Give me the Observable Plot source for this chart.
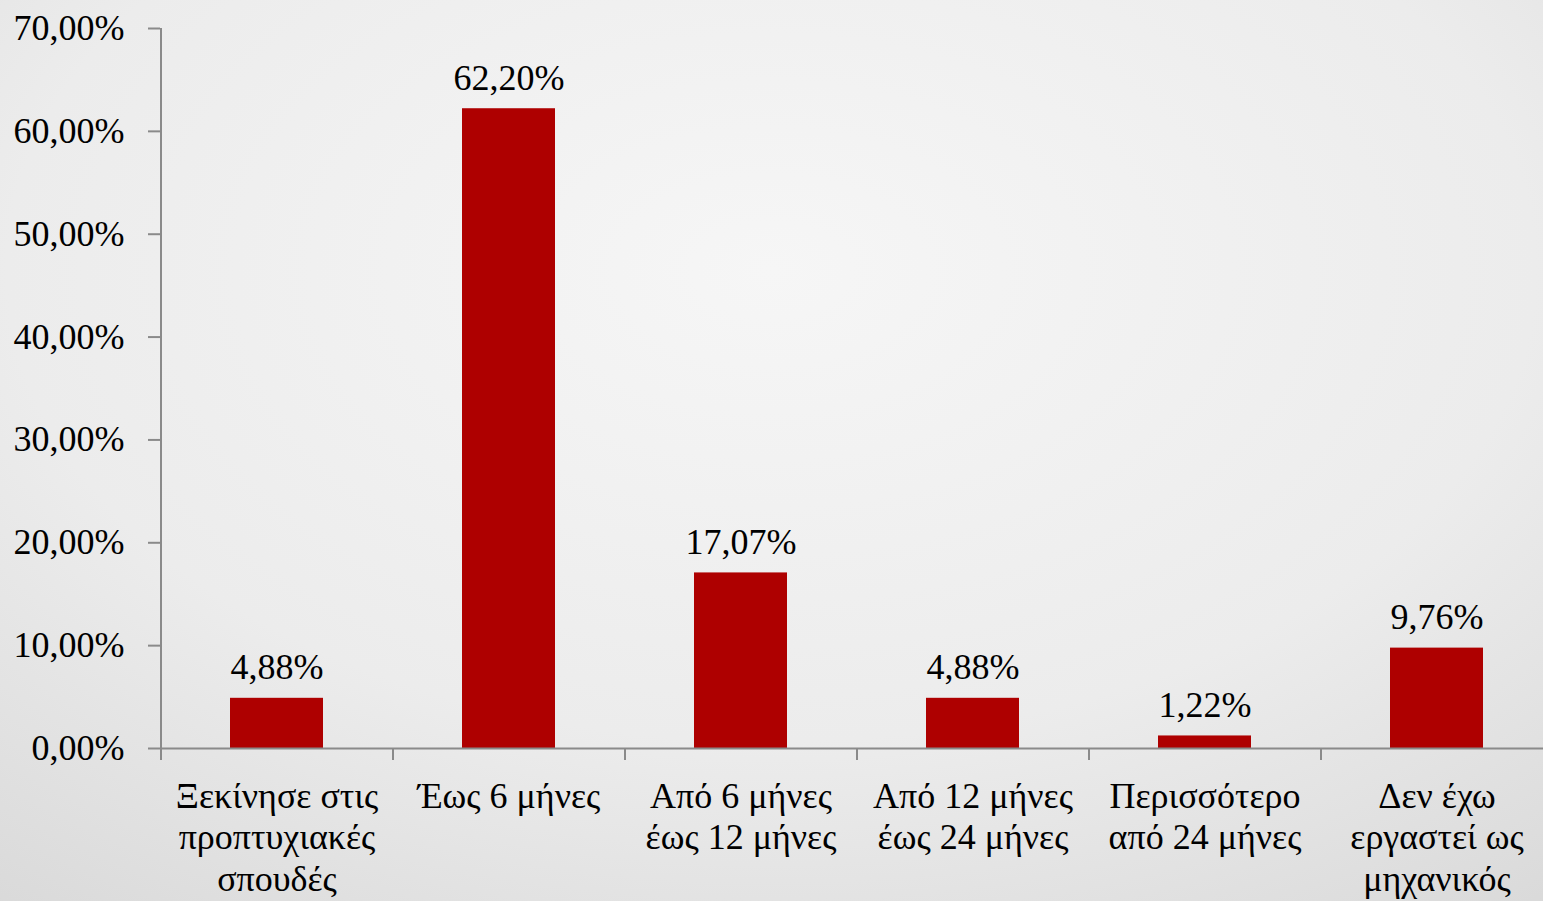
<!DOCTYPE html>
<html>
<head>
<meta charset="utf-8">
<script src="https://cdn.jsdelivr.net/npm/d3@7"></script>
<script src="https://cdn.jsdelivr.net/npm/@observablehq/plot@0.6"></script>
<style>
  html, body { margin: 0; padding: 0; width: 1543px; height: 901px; overflow: hidden; }
  body { background: radial-gradient(ellipse 90% 95% at 50% 30%, #f6f6f6 0%, #ececec 55%, #d6d6d6 100%); }
  #chart { width: 1552px; }
  #chart svg { display: block; background: transparent; max-width: none !important; }
</style>
</head>
<body>
<div id="chart"></div>
<script>
const categories = [
  "Ξεκίνησε στις\nπροπτυχιακές\nσπουδές",
  "Έως 6 μήνες",
  "Από 6 μήνες\nέως 12 μήνες",
  "Από 12 μήνες\nέως 24 μήνες",
  "Περισσότερο\nαπό 24 μήνες",
  "Δεν έχω\nεργαστεί ως\nμηχανικός"
];
const values = [4.88, 62.20, 17.07, 4.88, 1.22, 9.76];
const yTicks = [0, 10, 20, 30, 40, 50, 60, 70];

const data = categories.map((c, i) => ({category: c, value: values[i]}));
const fmt = v => v.toFixed(2).replace(".", ",") + "%";

const W = 1552, H = 901, mL = 160, mR = 0, mT = 28, mB = 153;
const step = (W - mL - mR) / categories.length;
const unitsPerPx = 70 / (H - mT - mB);
const axisColor = "#8a8a8a";
const font = "'Liberation Serif', 'Times New Roman', serif";
const fs = 36;

const chart = Plot.plot({
  width: W,
  height: H,
  marginLeft: mL,
  marginRight: mR,
  marginTop: mT,
  marginBottom: mB,
  style: {fontFamily: font, fontSize: fs + "px", color: "#000", background: "transparent", overflow: "visible", maxWidth: "none"},
  x: {domain: categories, paddingInner: 0.6, paddingOuter: 0.3, align: 0.5, axis: null},
  y: {type: "linear", domain: [0, 70], axis: null},
  marks: [
    Plot.barY(data, {x: "category", y: "value", fill: "#ae0000"}),
    Plot.axisY({ticks: yTicks, tickFormat: fmt, tickSize: 12, tickPadding: 24, stroke: axisColor, strokeWidth: 2, fill: "#000", fontSize: fs, label: null}),
    Plot.ruleX([categories[0]], {x: d => d, dx: -step / 2, y1: 0, y2: 70, stroke: axisColor, strokeWidth: 2}),
    Plot.ruleY([0], {stroke: axisColor, strokeWidth: 2}),
    Plot.ruleX(categories, {x: d => d, dx: -step / 2, y1: 0, y2: -12 * unitsPerPx, stroke: axisColor, strokeWidth: 2}),
    Plot.text(data, {x: "category", y: "value", text: d => fmt(d.value), lineAnchor: "bottom", dy: -19, fontSize: fs, fill: "#000"}),
    Plot.text(categories, {x: d => d, y: 0, text: d => d, lineAnchor: "top", dy: 30, lineHeight: 1.15, fontSize: fs, fill: "#000"})
  ]
});
document.getElementById("chart").appendChild(chart);
</script>
</body>
</html>
